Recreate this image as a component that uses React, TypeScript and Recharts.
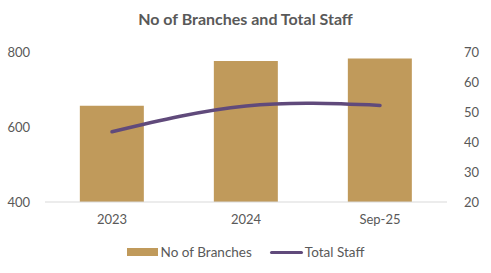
import React from "react";
import { ComposedChart, Bar, Line, XAxis, YAxis, Legend } from "recharts";

const categories = ["2023", "2024", "Sep-25"];
const branches = [657, 776, 783];
const staff = [43.4, 52.0, 52.2];
const leftTicks = [400, 600, 800];
const rightTicks = [20, 30, 40, 50, 60, 70];

const data = categories.map((c, i) => ({ name: c, branches: branches[i], staff: staff[i] }));

const FONT = "Lato, 'Noto Sans', sans-serif";
const TXT = "#595959";
const BAR = "#C09A5B";
const LINE = "#604A7B";

const LegendContent = () => (
  <div style={{ display: "flex", justifyContent: "center", alignItems: "center", fontFamily: FONT, fontSize: 13.5, color: TXT }}>
    <div style={{ display: "flex", alignItems: "center", marginRight: 18 }}>
      <span style={{ display: "inline-block", width: 31, height: 8, background: BAR, marginRight: 3 }} />
      <span>No of Branches</span>
    </div>
    <div style={{ display: "flex", alignItems: "center" }}>
      <span style={{ display: "inline-block", width: 33, height: 3, borderRadius: 2, background: LINE, marginRight: 2 }} />
      <span>Total Staff</span>
    </div>
  </div>
);

export default function App() {
  return (
    <div style={{ position: "absolute", left: 0, top: 0, width: 491, height: 273, background: "#fff" }}>
      <div
        style={{
          position: "absolute",
          left: 0,
          top: 9,
          width: 491,
          textAlign: "center",
          fontFamily: FONT,
          fontWeight: "bold",
          fontSize: 16,
          color: TXT,
        }}
      >
        No of Branches and Total Staff
      </div>
      <ComposedChart width={491} height={273} data={data} margin={{ top: 52, right: 0, left: 0, bottom: 25 }} barCategoryGap="26%">
        <XAxis
          dataKey="name"
          height={30}
          axisLine={{ stroke: "#D9D9D9" }}
          tickLine={false}
          tickSize={0}
          tickMargin={13}
          tick={{ fill: TXT, fontSize: 13, fontFamily: FONT }}
        />
        <YAxis
          yAxisId="left"
          orientation="left"
          width={45}
          domain={[400, 800]}
          ticks={leftTicks}
          axisLine={false}
          tickLine={false}
          tickSize={0}
          tickMargin={15}
          tick={{ fill: TXT, fontSize: 13, fontFamily: FONT }}
        />
        <YAxis
          yAxisId="right"
          orientation="right"
          width={44}
          domain={[20, 70]}
          ticks={rightTicks}
          axisLine={false}
          tickLine={false}
          tickSize={0}
          tickMargin={17}
          tick={{ fill: TXT, fontSize: 13, fontFamily: FONT }}
        />
        <Legend content={<LegendContent />} wrapperStyle={{ position: "absolute", top: 244, left: 0, width: 491, bottom: "auto" }} height={0} />
        <Bar yAxisId="left" dataKey="branches" name="No of Branches" fill={BAR} isAnimationActive={false} />
        <Line
          yAxisId="right"
          dataKey="staff"
          name="Total Staff"
          type="natural"
          stroke={LINE}
          strokeWidth={3.5}
          strokeLinecap="round"
          dot={false}
          activeDot={false}
          isAnimationActive={false}
        />
      </ComposedChart>
    </div>
  );
}
